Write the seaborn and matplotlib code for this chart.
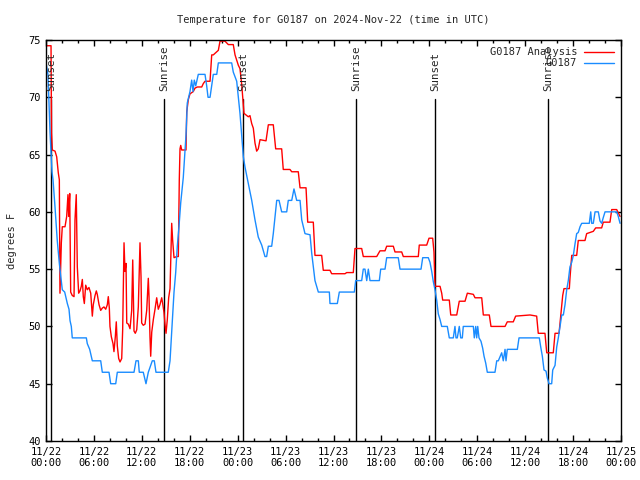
import numpy as np
import pandas as pd
import matplotlib
matplotlib.use("Agg")
import matplotlib.pyplot as plt
import matplotlib.dates as mdates
import seaborn as sns

# hours after 2024-11-22 00:00 UTC and temperature in degrees F
obs_hours = [0.00, 0.25, 0.50, 0.75, 0.88, 1.13, 1.41, 1.67, 2.04, 2.34, 2.67, 2.88, 3.01, 3.17, 3.29,
             5.05, 5.17, 5.47, 5.80, 6.85, 7.05, 7.89, 8.10, 8.73, 8.93, 11.02, 11.27, 11.56, 11.68,
             12.18, 12.52, 12.81, 13.31, 13.56, 13.77, 15.31, 15.53, 15.65, 15.82, 16.03, 16.24, 16.44,
             16.65, 16.87, 17.19, 17.53, 17.69, 18.03, 18.24, 18.41, 18.57, 18.75, 19.07, 19.91, 20.12,
             20.29, 20.54, 20.75, 20.95, 21.38, 21.58, 23.25, 23.45, 23.88, 24.29, 24.71, 24.92, 25.33,
             25.76, 26.17, 26.58, 27.01, 27.42, 27.63, 27.84, 28.26, 28.46, 28.89, 29.18, 29.51, 30.14,
             30.34, 30.77, 31.05, 31.39, 31.81, 32.02, 32.43, 33.06, 33.27, 33.47, 33.68, 34.10, 35.48,
             35.56, 36.48, 36.73, 38.61, 38.78, 39.53, 39.73, 39.94, 40.16, 40.36, 40.57, 41.74, 41.91,
             42.45, 42.66, 44.11, 44.33, 46.96, 47.17, 47.87, 48.08, 48.30, 48.50, 48.71, 48.92, 49.12,
             49.34, 49.55, 50.25, 50.50, 51.00, 51.21, 51.34, 51.50, 51.75, 51.93, 52.13, 52.25, 53.51,
             53.63, 53.81, 53.93, 54.06, 54.22, 54.47, 54.68, 54.85, 55.06, 55.26, 56.22, 56.44, 56.64,
             57.06, 57.26, 57.48, 57.60, 57.76, 59.02, 59.23, 61.77, 61.95, 62.15, 62.36, 62.61, 62.77,
             62.99, 63.32, 63.45, 63.74, 63.95, 64.15, 64.36, 64.58, 64.78, 64.99, 65.20, 65.40, 65.61,
             65.83, 66.03, 66.24, 66.45, 66.65, 66.87, 67.08, 68.03, 68.21, 68.33, 68.53, 68.75, 69.16,
             69.37, 69.58, 69.78, 70.00, 71.46, 71.66, 71.88]
obs_temp = [73, 72, 67, 63.5, 62.8, 60.4, 57.5, 55.5, 53.2, 53, 52, 51.5, 50.5, 50, 49,
            49, 48.5, 48, 47, 47, 46, 46, 45, 45, 46, 46, 47, 47, 46,
            46, 45, 46, 47, 47, 46, 46, 47, 48.5, 50.5, 53, 54.7, 57,
            58.7, 60.8, 63, 66.7, 69.5, 70.5, 71.5, 70.5, 71.5, 71, 72, 72, 71,
            70, 70, 71, 72, 72, 73, 73, 72.2, 71.4, 68.6, 64.8, 63.9, 62.5,
            61, 59.3, 57.8, 57.1, 56.1, 56.1, 57, 57, 58.1, 61, 61, 60, 60,
            61, 61, 62, 61, 61, 59.3, 58.1, 58, 56.4, 55.2, 54, 53, 53,
            52, 52, 53, 53, 54, 54, 55, 55, 54, 55, 54, 54, 55,
            55, 56, 56, 55, 55, 56, 56, 55.6, 54.8, 53.9, 53.2, 52.3, 51.1,
            50.6, 50, 50, 49, 49, 50, 49, 49, 50, 49, 49, 50, 50,
            49, 50, 49, 50, 49, 48.7, 48.1, 47.4, 46.8, 46, 46, 47, 47,
            47.7, 47, 48, 47, 48, 48, 49, 49, 48.2, 47.4, 46.2, 46.1, 45.5,
            45, 45, 46.2, 46.6, 48.2, 49, 50, 51, 51, 51.9, 53.2, 54, 55.2,
            55.6, 56.2, 57.2, 58.1, 58.2, 58.7, 59, 59, 60, 59, 59, 60, 60,
            59.2, 59, 59.5, 60, 60, 59.6, 59]

ana_hours = [0.00, 0.63, 0.69, 0.79, 1.13, 1.34, 1.54, 1.67, 1.75, 1.92, 2.04, 2.38, 2.59, 2.75, 2.84,
             2.97, 3.09, 3.29, 3.51, 3.63, 3.79, 3.92, 4.09, 4.26, 4.42, 4.55, 4.67, 4.80, 4.97, 5.17,
             5.38, 5.60, 5.80, 5.92, 6.14, 6.30, 6.42, 6.64, 6.85, 7.05, 7.26, 7.48, 7.68, 7.80, 7.93,
             8.01, 8.18, 8.39, 8.51, 8.68, 8.80, 8.93, 9.10, 9.27, 9.48, 9.60, 9.77, 9.89, 10.02, 10.11,
             10.31, 10.52, 10.73, 10.86, 11.02, 11.18, 11.36, 11.56, 11.77, 11.90, 11.98, 12.18, 12.40,
             12.61, 12.73, 12.81, 12.90, 13.02, 13.11, 13.24, 13.44, 13.65, 13.86, 14.06, 14.27, 14.49,
             14.61, 14.78, 14.90, 15.03, 15.19, 15.36, 15.53, 15.74, 15.86, 16.03, 16.37, 16.57, 16.69,
             16.78, 16.87, 16.99, 17.53, 17.62, 17.82, 18.03, 18.24, 18.44, 18.66, 18.95, 19.50, 19.70,
             19.91, 20.54, 20.75, 20.95, 21.58, 21.79, 22.41, 22.83, 23.45, 23.67, 24.08, 24.29, 24.51,
             24.71, 24.79, 25.33, 25.54, 25.76, 25.96, 26.17, 26.38, 26.58, 26.80, 27.55, 27.84, 28.46,
             28.76, 29.51, 29.71, 30.55, 30.77, 31.59, 31.81, 32.56, 32.77, 33.47, 33.68, 34.52, 34.72,
             35.56, 35.77, 37.44, 37.65, 38.48, 38.69, 39.53, 39.73, 41.41, 41.82, 42.45, 42.66, 43.49,
             43.70, 44.54, 44.74, 46.62, 46.74, 47.67, 47.96, 48.42, 48.58, 48.71, 49.34, 49.55, 49.67,
             50.50, 50.68, 51.43, 51.75, 52.47, 52.76, 53.51, 53.72, 54.56, 54.76, 55.51, 55.72, 57.48,
             57.76, 58.51, 58.81, 60.61, 61.44, 61.64, 62.48, 62.70, 63.52, 63.74, 64.24, 64.45, 64.70,
             64.86, 65.53, 65.61, 65.83, 66.45, 66.65, 67.49, 67.70, 68.53, 68.83, 69.58, 69.78, 70.62,
             70.84, 71.46, 71.88]
ana_temp = [74.5, 74.5, 66.9, 65.4, 65.3, 64.8, 63.4, 62.8, 52.9, 57.3, 58.7, 58.7, 59.6, 61.5, 59.6,
            61.6, 53, 52.7, 52.6, 59.3, 61.5, 55.2, 52.9, 53.1, 53.5, 54.1, 52.6, 52, 53.6, 53.2,
            53.4, 52.9, 50.9, 51.9, 52.7, 53.1, 52.8, 51.9, 51.4, 51.6, 51.7, 51.5, 51.9, 52.6, 51.6,
            50, 49.1, 48.5, 47.8, 49.1, 50.4, 48.3, 47.2, 46.9, 47.2, 49.7, 57.3, 54.8, 55.5, 50.3,
            50.2, 49.8, 51.4, 55.8, 49.6, 49.4, 49.7, 51.7, 57.3, 54.3, 50.3, 50.1, 50.2,
            51.4, 53.2, 54.2, 52.6, 49.1, 47.4, 49.5, 50.6, 51.5, 52.5, 51.5, 51.9, 52.5,
            52, 51.2, 50.2, 49.4, 50.6, 52.5, 53.3, 59, 57.5, 56, 56.1, 56.1, 62.8,
            65.5, 65.8, 65.4, 65.4, 68.7, 69.8, 70.3, 70.4, 70.5, 70.8, 70.9, 70.9, 71.2,
            71.4, 71.4, 73.7, 73.7, 74.1, 74.9, 74.9, 74.6, 74.6, 73.7, 72.8, 72.5, 71.1,
            69.3, 68.6, 68.3, 68.4, 67.7, 67.3, 66, 65.3, 65.5, 66.3, 66.2, 67.6, 67.6,
            65.5, 65.5, 63.7, 63.7, 63.5, 63.5, 62.1, 62.1, 59.1, 59.1, 56.2, 56.2, 54.9,
            54.9, 54.6, 54.6, 54.7, 54.7, 56.8, 56.8, 56.1, 56.1, 56.6, 56.6, 57, 57,
            56.5, 56.5, 56.1, 56.1, 57.1, 57.1, 57.7, 57.7, 56.5, 53.5, 53.5, 52.9, 52.3,
            52.3, 51, 51, 52.2, 52.2, 52.9, 52.8, 52.5, 52.5, 51, 51, 50, 50,
            50.4, 50.4, 50.9, 51, 50.9, 49.4, 49.4, 47.7, 47.7, 49.4, 49.4, 50.9, 52.7,
            53.3, 53.3, 54.2, 56.2, 56.2, 57.5, 57.5, 58.1, 58.3, 58.6, 58.6, 59.1, 59.1,
            60.2, 60.2, 59.6]

sun_labels = ["Sunset", "Sunrise", "Sunset", "Sunrise", "Sunset", "Sunrise"]
sun_hours = [0.63, 14.81, 24.71, 38.82, 48.75, 62.90]

start = pd.Timestamp("2024-11-22 00:00")
df = pd.concat([
    pd.DataFrame({"time": start + pd.to_timedelta(ana_hours, unit="h"),
                  "temp": ana_temp, "series": "G0187 Analysis"}),
    pd.DataFrame({"time": start + pd.to_timedelta(obs_hours, unit="h"),
                  "temp": obs_temp, "series": "G0187"}),
])

sns.set_theme(style="ticks")
plt.rcParams["font.family"] = ["DejaVu Sans Mono", "DejaVu Sans"]
plt.rcParams["font.size"] = 7

fig = plt.figure(figsize=(6.4, 4.8), dpi=100)
ax = fig.add_axes([46 / 640, 1 - 441 / 480, 575 / 640, 401 / 480])

# sunrise / sunset markers
for t, lab in zip(sun_hours, sun_labels):
    x = start + pd.Timedelta(hours=t)
    ax.plot([x, x], [0, 0.853], color="black", lw=1.0,
            transform=ax.get_xaxis_transform(), zorder=1)
    ax.text(x, 0.872, lab, rotation=90, ha="center", va="bottom", fontsize=7.8,
            transform=ax.get_xaxis_transform())

sns.lineplot(data=df, x="time", y="temp", hue="series", estimator=None, sort=False,
             palette={"G0187 Analysis": "#ff0000", "G0187": "#1a8cff"},
             linewidth=1.0, ax=ax, zorder=2)

ax.set_xlim(start, start + pd.Timedelta(days=3))
ax.set_ylim(40, 75)
ax.set_yticks(np.arange(40, 76, 5))
ax.xaxis.set_major_locator(mdates.HourLocator(byhour=range(0, 24, 6)))
ax.xaxis.set_minor_locator(mdates.HourLocator(interval=2))
ax.xaxis.set_major_formatter(mdates.DateFormatter("%m/%d\n%H:%M"))
ax.tick_params(which="both", direction="in", top=True, right=True, colors="black",
               labelsize=7.5, width=1.0)
ax.tick_params(which="major", length=4.5, pad=4)
ax.tick_params(which="minor", length=2.2)
for s in ax.spines.values():
    s.set_color("black")
    s.set_linewidth(1.0)

ax.set_xlabel("")
ax.set_ylabel("degrees F", fontsize=7.5, labelpad=8)
ax.set_title("Temperature for G0187 on 2024-Nov-22 (time in UTC)", fontsize=7.5, pad=12)

ax.legend(loc="upper right", frameon=False, markerfirst=False, handlelength=2.9,
          fontsize=7.5, labelspacing=0.1, borderaxespad=0.3, handletextpad=0.6)

fig.savefig("out.png", dpi=100)
